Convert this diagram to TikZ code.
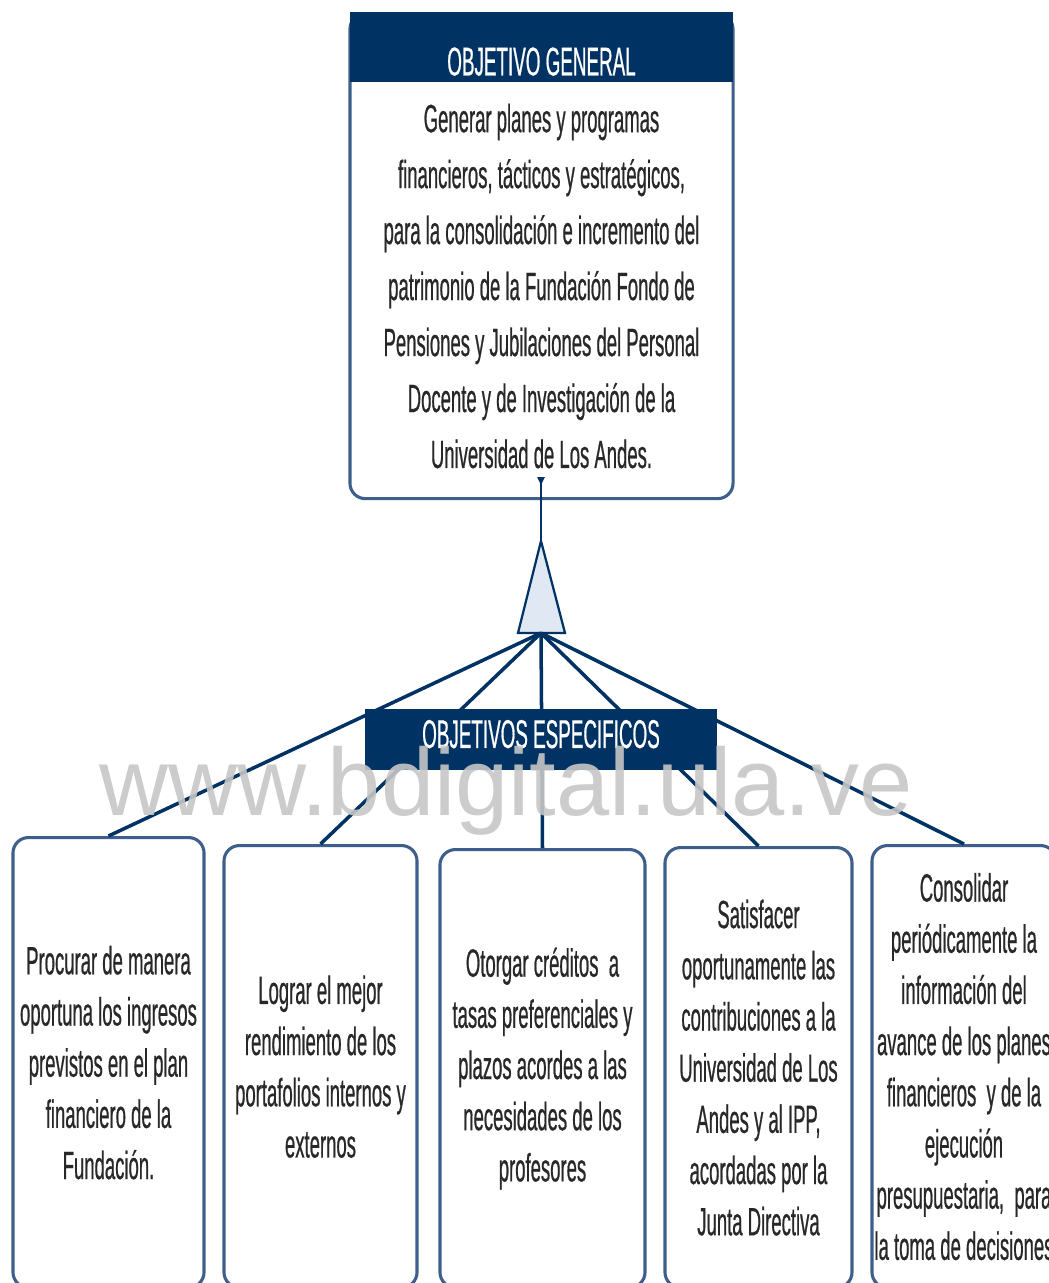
\documentclass[tikz,border=0pt]{standalone}
\usepackage{fontspec}
\setmainfont[FakeStretch=0.47, FakeBold=0.5]{Liberation Sans}
\newfontfamily\markfont{Liberation Sans}
\usetikzlibrary{arrows.meta}
\definecolor{navy}{RGB}{0,50,100}
\definecolor{edgeblue}{RGB}{62,95,140}
\definecolor{trifill}{RGB}{224,232,244}
\definecolor{inkgray}{RGB}{40,40,40}

\begin{document}
\begin{tikzpicture}[x=0.025cm, y=-0.025cm,
    box/.style={draw=edgeblue, line width=2.2pt, rounded corners=11pt, fill=white, align=center, text=inkgray, inner sep=1pt, font=\fontsize{28}{36.4}\selectfont},
    head/.style={fill=navy, text=white, inner sep=0pt, font=\fontsize{28.5}{28.5}\selectfont},
    link/.style={draw=navy, line width=2.5pt}]

            % Frame
            \useasboundingbox (0,0) rectangle (1049,1283);
            \clip (0,0) rectangle (1049,1283);

            % General objective
            \node[box, minimum width=9.575cm, minimum height=12.125cm, anchor=north] (gen) at (541.5,12) {};
            \node[head, minimum width=9.575cm, minimum height=1.75cm, anchor=north, text height=40pt, text depth=0pt] (genhead) at (541.5,12) {OBJETIVO GENERAL};
            \node[align=center, text=inkgray, font=\fontsize{28}{39.8}\selectfont] (gentext) at (541.5,286) {Generar planes y programas\\financieros, tácticos y estratégicos,\\para la consolidación e incremento del\\patrimonio de la Fundación Fondo de\\Pensiones y Jubilaciones del Personal\\Docente y de Investigación de la\\Universidad de Los Andes.};

            % Specific objectives
            \node[box, minimum width=4.775cm, minimum height=11.25cm, anchor=north] (b1) at (108.5,836) {Procurar de manera\\oportuna los ingresos\\previstos en el plan\\financiero de la\\Fundación.};
            \node[box, minimum width=4.825cm, minimum height=11.05cm, anchor=north] (b2) at (320.5,844) {Lograr el mejor\\rendimiento de los\\portafolios internos y\\externos};
            \node[box, minimum width=5.125cm, minimum height=10.95cm, anchor=north] (b3) at (542.5,848) {Otorgar créditos\ \ a\\tasas preferenciales y\\plazos acordes a las\\necesidades de los\\profesores};
            \node[box, minimum width=4.675cm, minimum height=11cm, anchor=north] (b4) at (758.5,846) {Satisfacer\\oportunamente las\\contribuciones a la\\Universidad de Los\\Andes y al IPP,\\acordadas por la\\Junta Directiva};
            \node[box, minimum width=4.6cm, minimum height=11.05cm, anchor=north] (b5) at (964,844) {Consolidar\\periódicamente la\\información del\\avance de los planes\\financieros\ \ y de la\\ejecución\\presupuestaria,\ \ para\\la toma de decisiones};

            % Triangle
            \coordinate (apex) at (541,541);
            \coordinate (hub) at (541,633);
            \coordinate (gentip) at (541,477);
            \draw[navy, line width=1.6pt, fill=trifill] (apex) -- (565,633) -- (518,633) -- cycle;

            % Connectors
            \draw[link, line width=1.6pt, -{Triangle[reversed, length=6pt, width=5pt]}] (apex) -- (gentip);
            \draw[link] (hub) -- (b1.north);
            \draw[link] (hub) -- (b2.north);
            \draw[link] (hub) -- (b3.north);
            \draw[link] (hub) -- (b4.north);
            \draw[link] (hub) -- (b5.north);

            % Band over the connectors
            \node[head, minimum width=8.8cm, minimum height=1.525cm, text height=24pt, text depth=12pt] (spec) at (541,739.5) {OBJETIVOS ESPECIFICOS};

            % Watermark
            \node[font=\markfont\fontsize{68}{68}\selectfont, text=gray!45, anchor=base, inner sep=0pt, opacity=0.9] (mark) at (506,815) {www.bdigital.ula.ve};

\end{tikzpicture}
\end{document}
